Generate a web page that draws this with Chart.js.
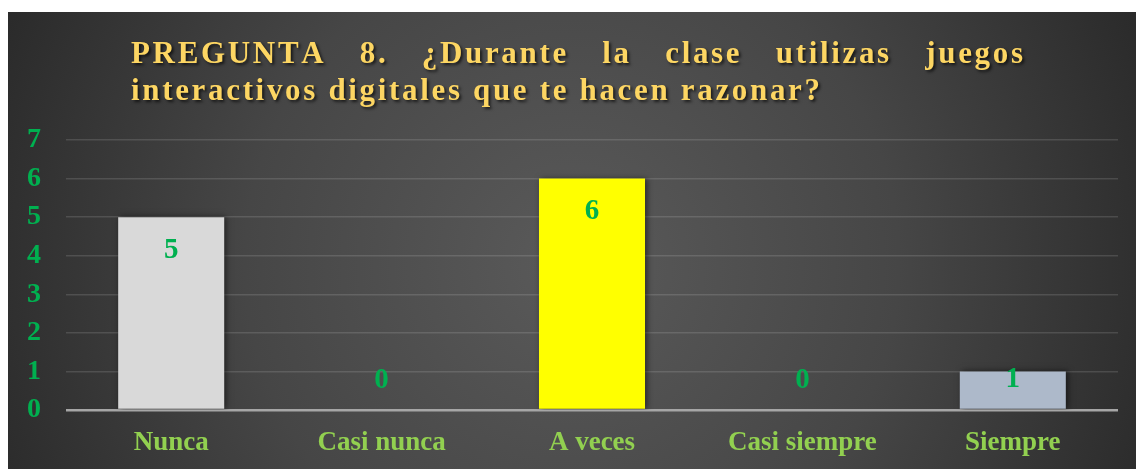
<!DOCTYPE html>
<html>
<head>
<meta charset="utf-8">
<script src="https://cdn.jsdelivr.net/npm/chart.js@4.4.1/dist/chart.umd.min.js"></script>
<style>
  html, body { margin: 0; padding: 0; background: #ffffff; width: 1136px; height: 469px; overflow: hidden; }
  #wrap { position: absolute; left: 8px; top: 12px; width: 1128px; height: 457px; }
</style>
</head>
<body>
<div id="wrap"><canvas id="c"></canvas></div>
<script>
const categories = ['Nunca', 'Casi nunca', 'A veces', 'Casi siempre', 'Siempre'];
const values = [5, 0, 6, 0, 1];
const barColors = ['#d9d9d9', '#d9d9d9', '#ffff00', '#d9d9d9', '#adb9ca'];
const yTicks = [0, 1, 2, 3, 4, 5, 6, 7];
const titleLine1 = 'PREGUNTA 8. ¿Durante la clase utilizas juegos';
const titleLine2 = 'interactivos digitales que te hacen razonar?';

const SERIF = "'Liberation Serif', 'Times New Roman', serif";

const bgPlugin = {
  id: 'bg',
  beforeDraw(chart) {
    const ctx = chart.ctx, w = chart.width, h = chart.height;
    ctx.save();
    const g = ctx.createRadialGradient(w * 0.5, h * 0.55, 0, w * 0.5, h * 0.55, w * 0.58);
    g.addColorStop(0, '#5a5a5a');
    g.addColorStop(0.5, '#464646');
    g.addColorStop(1, '#272727');
    ctx.fillStyle = g;
    ctx.fillRect(0, 0, w, h);
    ctx.restore();
  }
};

function drawSpaced(ctx, text, x, y, s) {
  for (const ch of text) {
    ctx.fillText(ch, x, y);
    x += ctx.measureText(ch).width + s;
  }
  return x;
}
function spacedWidth(ctx, text, s) {
  let w = 0; const arr = [...text];
  arr.forEach(ch => w += ctx.measureText(ch).width);
  return w + s * (arr.length - 1);
}

const titlePlugin = {
  id: 'titleJust',
  afterDraw(chart) {
    const ctx = chart.ctx;
    ctx.save();
    ctx.font = 'bold 31px ' + SERIF;
    ctx.fillStyle = '#fdd663';
    ctx.textBaseline = 'alphabetic';
    ctx.textAlign = 'left';
    ctx.shadowColor = 'rgba(0,0,0,0.65)';
    ctx.shadowOffsetX = 2; ctx.shadowOffsetY = 2; ctx.shadowBlur = 3;
    const x0 = 123, x2end = 812, x1end = 1015;
    const n2 = [...titleLine2].length;
    const raw2 = spacedWidth(ctx, titleLine2, 0);
    const s = (x2end - x0 - raw2) / (n2 - 1);
    drawSpaced(ctx, titleLine2, x0, 88, s);
    const words = titleLine1.split(' ');
    const ww = words.map(wd => spacedWidth(ctx, wd, s));
    const total = ww.reduce((a, b) => a + b, 0);
    const gap = (x1end - x0 - total) / (words.length - 1);
    let x = x0;
    words.forEach((wd, i) => {
      drawSpaced(ctx, wd, x, 51, s);
      x += ww[i] + gap;
    });
    ctx.restore();
  }
};

const barFx = {
  id: 'barFx',
  beforeDatasetsDraw(chart) {
    const ctx = chart.ctx;
    ctx.save();
    ctx.shadowColor = 'rgba(0,0,0,0.55)';
    ctx.shadowBlur = 6;
    ctx.shadowOffsetX = 2;
    ctx.shadowOffsetY = 0;
  },
  afterDatasetsDraw(chart) {
    const ctx = chart.ctx;
    ctx.restore();
    ctx.save();
    ctx.font = 'bold 29px ' + SERIF;
    ctx.fillStyle = '#00b050';
    ctx.textAlign = 'center';
    ctx.textBaseline = 'middle';
    const meta = chart.getDatasetMeta(0);
    meta.data.forEach((el, i) => {
      const cy = Math.min(el.y + 32, el.base - 30);
      ctx.fillText(String(values[i]), el.x, cy + 1);
    });
    ctx.restore();
  }
};

new Chart(document.getElementById('c'), {
  type: 'bar',
  data: {
    labels: categories,
    datasets: [{
      data: values,
      backgroundColor: barColors,
      borderWidth: 0,
      barPercentage: 0.504,
      categoryPercentage: 1.0
    }]
  },
  options: {
    responsive: true,
    maintainAspectRatio: false,
    animation: false,
    events: [],
    layout: { padding: { top: 128, right: 18, left: 0, bottom: 0 } },
    plugins: { legend: { display: false }, tooltip: { enabled: false }, title: { display: false } },
    scales: {
      x: {
        grid: { display: false, drawTicks: false },
        border: { display: false },
        ticks: {
          color: '#92d050',
          font: { family: SERIF, size: 27, weight: 'bold' },
          padding: 17,
          maxRotation: 0
        },
        afterFit(scale) { scale.height = 59; }
      },
      y: {
        min: 0, max: 7,
        afterBuildTicks(scale) { scale.ticks = yTicks.map(v => ({ value: v })); },
        grid: {
          drawTicks: false,
          tickLength: 0,
          color: ctx => (ctx.tick && ctx.tick.value === 0) ? '#a6a6a6' : 'rgba(255,255,255,0.13)',
          lineWidth: ctx => (ctx.tick && ctx.tick.value === 0) ? 2.5 : 1.5
        },
        border: { display: false },
        ticks: {
          color: '#00b050',
          font: { family: SERIF, size: 28, weight: 'bold' },
          padding: 25
        },
        afterFit(scale) { scale.width = 58; }
      }
    }
  },
  plugins: [bgPlugin, barFx, titlePlugin]
});
</script>
</body>
</html>
